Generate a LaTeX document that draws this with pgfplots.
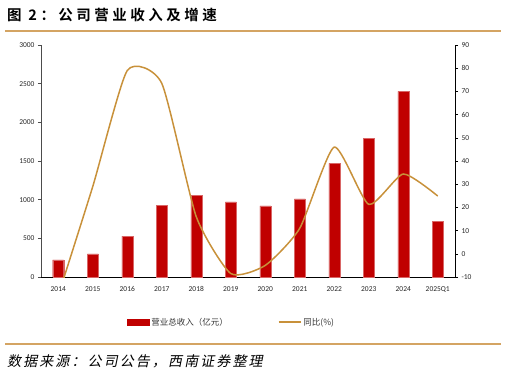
\documentclass[border=0pt]{standalone}
\usepackage{pgfplots}
\pgfplotsset{compat=1.18}
\usepackage{fontspec}
\setmainfont{Carlito}
\newfontfamily\cjk[BoldFont={Noto Sans CJK SC Bold}]{Noto Sans CJK SC}
\newfontfamily\cjkit[FakeSlant=0.2]{Noto Sans CJK SC}
\definecolor{barred}{HTML}{C00000}
\definecolor{gold}{HTML}{C8913A}
\definecolor{rulecol}{HTML}{D4A463}
\pgfplotsset{mylinelegend/.style={legend image code/.code={\draw[##1] (0pt,0pt) -- (22pt,0pt);}}}
\begin{document}
\begin{tikzpicture}
\useasboundingbox (0pt,0pt) rectangle (507pt,-376pt);
\node[anchor=west,inner sep=0pt] at (7pt,-15pt) {\cjk\bfseries\fontsize{14.5}{16}\selectfont\addfontfeature{LetterSpace=24}图 2：公司营业收入及增速};
\draw[rulecol,line width=1.5pt] (5pt,-31pt) -- (501pt,-31pt);
\draw[rulecol,line width=1.5pt] (5pt,-344pt) -- (501pt,-344pt);
\node[anchor=west,inner sep=0pt] at (7pt,-361pt) {\cjkit\fontsize{14}{16}\selectfont\addfontfeature{LetterSpace=15}数据来源：公司公告，西南证券整理};
\begin{axis}[
  at={(41pt,-277pt)}, anchor=south west, scale only axis,
  width=414pt, height=232pt,
  xmin=-0.5, xmax=11.5, ymin=0, ymax=3000,
  ytick={0,500,...,3000},
  xtick={0,...,11},
  xticklabels={2014,2015,2016,2017,2018,2019,2020,2021,2022,2023,2024,2025Q1},
  axis x line*=bottom, axis y line*=left,
  x axis line style={black,line width=0.8pt},
  y axis line style={black!70,line width=0.8pt},
  x tick style={draw=none},
  y tick style={black!70,line width=0.6pt},
  tick align=outside, major tick length=3pt,
  tick label style={font=\fontsize{7.5}{8.5}\selectfont, text=black!85},
  /pgf/number format/assume math mode=true,
  /pgf/number format/1000 sep={},
  xticklabel style={yshift=-3pt},
  legend style={draw=none, fill=none, at={(0.2,-0.195)}, anchor=west,
    font=\cjk\fontsize{8.5}{10}\selectfont, text=black!80},
  legend columns=2,
  legend cell align=left,
  /tikz/every even column/.append style={column sep=48pt},
]
\addplot[ybar, bar width=11pt, bar shift=0pt, fill=barred, draw=barred!60!white, line width=0.4pt,
  legend image code/.code={\fill[barred] (0pt,-3pt) rectangle (22pt,3pt);}]
coordinates {(0,220) (1,300) (2,530) (3,930) (4,1060) (5,970) (6,920) (7,1010) (8,1470) (9,1790) (10,2400) (11,720)};
\addlegendentry{营业总收入（亿元）}
\addlegendimage{gold, line width=1.5pt, mylinelegend}
\addlegendentry{同比(\%)}
\end{axis}
\begin{axis}[
  at={(41pt,-277pt)}, anchor=south west, scale only axis,
  width=414pt, height=232pt,
  xmin=-0.5, xmax=11.5, ymin=-10, ymax=90,
  ytick={-10,0,...,90},
  axis x line=none, axis y line*=right,
  y axis line style={black,line width=0.8pt},
  y tick style={black,line width=0.6pt},
  tick align=outside, major tick length=3pt,
  tick label style={font=\fontsize{7.5}{8.5}\selectfont, text=black!85},
  /pgf/number format/assume math mode=true,
]
\addplot[gold, line width=1.5pt, smooth, tension=0.35]
coordinates {(0,-18) (1,29) (2,79) (3,73.5) (4,16) (5,-8.5) (6,-5) (7,11) (8,46) (9,21.3) (10,34.4) (11,24.9)};
\end{axis}
\end{tikzpicture}
\end{document}
